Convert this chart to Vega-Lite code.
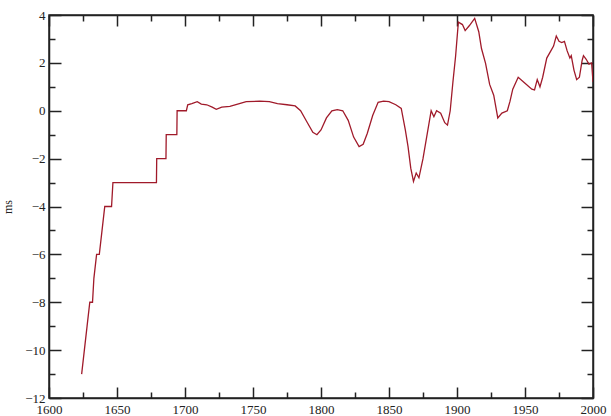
{
  "$schema": "https://vega.github.io/schema/vega-lite/v6.json",
  "autosize": "none",
  "width": 544,
  "height": 383,
  "padding": {"left": 49, "top": 15, "right": 18, "bottom": 18},
  "background": "white",
  "config": {
    "view": {"stroke": "#222", "strokeWidth": 1.5},
    "axis": {"labelFont": "Liberation Serif", "titleFont": "Liberation Serif", "labelColor": "#222", "titleColor": "#222", "labelFontSize": 13, "grid": false, "domainColor": "#222", "domainWidth": 1.5, "tickColor": "#222", "tickWidth": 1.5}
  },
  "data": {"values": [
    {"year": 1624, "ms": -11}, {"year": 1626, "ms": -10}, {"year": 1628, "ms": -9}, {"year": 1630, "ms": -8},
    {"year": 1632, "ms": -8}, {"year": 1633, "ms": -7}, {"year": 1635, "ms": -6}, {"year": 1637, "ms": -6},
    {"year": 1639, "ms": -5}, {"year": 1641, "ms": -4}, {"year": 1646, "ms": -4}, {"year": 1647, "ms": -3},
    {"year": 1679, "ms": -3}, {"year": 1679.2, "ms": -2}, {"year": 1686, "ms": -2}, {"year": 1686.2, "ms": -1},
    {"year": 1694, "ms": -1}, {"year": 1694.2, "ms": 0}, {"year": 1701, "ms": 0}, {"year": 1702, "ms": 0.25},
    {"year": 1705, "ms": 0.3}, {"year": 1709, "ms": 0.38}, {"year": 1712, "ms": 0.28}, {"year": 1716, "ms": 0.25},
    {"year": 1720, "ms": 0.15}, {"year": 1723, "ms": 0.06}, {"year": 1727, "ms": 0.15}, {"year": 1733, "ms": 0.18},
    {"year": 1740, "ms": 0.3}, {"year": 1745, "ms": 0.38}, {"year": 1755, "ms": 0.4}, {"year": 1762, "ms": 0.38},
    {"year": 1768, "ms": 0.3}, {"year": 1775, "ms": 0.25}, {"year": 1781, "ms": 0.2}, {"year": 1785, "ms": 0.0},
    {"year": 1790, "ms": -0.5}, {"year": 1794, "ms": -0.9}, {"year": 1797, "ms": -1.0}, {"year": 1800, "ms": -0.8},
    {"year": 1804, "ms": -0.3}, {"year": 1808, "ms": 0.0}, {"year": 1812, "ms": 0.05}, {"year": 1816, "ms": 0.0},
    {"year": 1820, "ms": -0.4}, {"year": 1824, "ms": -1.1}, {"year": 1828, "ms": -1.5}, {"year": 1831, "ms": -1.4},
    {"year": 1834, "ms": -0.95}, {"year": 1838, "ms": -0.2}, {"year": 1842, "ms": 0.35}, {"year": 1846, "ms": 0.4},
    {"year": 1850, "ms": 0.38}, {"year": 1855, "ms": 0.25}, {"year": 1859, "ms": 0.1}, {"year": 1862, "ms": -0.8},
    {"year": 1864, "ms": -1.5}, {"year": 1866, "ms": -2.4}, {"year": 1868, "ms": -2.95}, {"year": 1870, "ms": -2.6},
    {"year": 1872, "ms": -2.8}, {"year": 1875, "ms": -2.0}, {"year": 1878, "ms": -1.0}, {"year": 1881, "ms": 0.0},
    {"year": 1883, "ms": -0.25}, {"year": 1885, "ms": 0.0}, {"year": 1888, "ms": -0.1}, {"year": 1891, "ms": -0.5},
    {"year": 1893, "ms": -0.6}, {"year": 1895, "ms": 0.0}, {"year": 1897, "ms": 1.2}, {"year": 1899, "ms": 2.3},
    {"year": 1901, "ms": 3.7}, {"year": 1904, "ms": 3.6}, {"year": 1906, "ms": 3.35}, {"year": 1909, "ms": 3.55},
    {"year": 1913, "ms": 3.86}, {"year": 1916, "ms": 3.3}, {"year": 1918, "ms": 2.6}, {"year": 1921, "ms": 1.98},
    {"year": 1924, "ms": 1.1}, {"year": 1927, "ms": 0.65}, {"year": 1930, "ms": -0.3}, {"year": 1933, "ms": -0.1},
    {"year": 1937, "ms": 0.0}, {"year": 1939, "ms": 0.4}, {"year": 1941, "ms": 0.9}, {"year": 1945, "ms": 1.4},
    {"year": 1950, "ms": 1.15}, {"year": 1955, "ms": 0.9}, {"year": 1957, "ms": 0.87}, {"year": 1959, "ms": 1.3},
    {"year": 1961, "ms": 1.0}, {"year": 1963, "ms": 1.4}, {"year": 1966, "ms": 2.2}, {"year": 1969, "ms": 2.5},
    {"year": 1971, "ms": 2.7}, {"year": 1973, "ms": 3.12}, {"year": 1975, "ms": 2.9}, {"year": 1977, "ms": 2.85},
    {"year": 1979, "ms": 2.9}, {"year": 1981, "ms": 2.5}, {"year": 1983, "ms": 2.2}, {"year": 1984, "ms": 2.3},
    {"year": 1986, "ms": 1.7}, {"year": 1988, "ms": 1.3}, {"year": 1990, "ms": 1.4}, {"year": 1992, "ms": 2.1},
    {"year": 1993, "ms": 2.3}, {"year": 1995, "ms": 2.15}, {"year": 1997, "ms": 1.95}, {"year": 1999, "ms": 2.0},
    {"year": 2000, "ms": 1.2}
  ]},
  "resolve": {"axis": {"x": "independent", "y": "independent"}},
  "layer": [
    {
      "mark": {"type": "line", "color": "#a01a2a", "strokeWidth": 1.3, "clip": true},
      "encoding": {
        "x": {"field": "year", "type": "quantitative", "scale": {"domain": [1600, 2000], "nice": false, "zero": false},
          "axis": {"orient": "bottom", "title": null, "values": [1600,1650,1700,1750,1800,1850,1900,1950,2000],
            "tickSize": -11, "labelPadding": 16, "labelFlush": false, "labelOverlap": false, "format": "d"}},
        "y": {"field": "ms", "type": "quantitative", "scale": {"domain": [-12, 4], "nice": false, "zero": false},
          "axis": {"orient": "left", "title": "ms", "titleFontSize": 12, "titleFontWeight": "normal", "titlePadding": 10,
            "values": [-12,-10,-8,-6,-4,-2,0,2,4],
            "tickSize": -12, "labelPadding": 16, "labelFlush": false, "labelOverlap": false}}
      }
    },
    {
      "mark": {"type": "line", "strokeOpacity": 0},
      "encoding": {
        "x": {"field": "year", "type": "quantitative",
          "axis": {"orient": "bottom", "title": null, "labels": false, "domain": false, "values": [1625,1675,1725,1775,1825,1875,1925,1975], "tickSize": -6}},
        "y": {"field": "ms", "type": "quantitative",
          "axis": {"orient": "left", "title": null, "labels": false, "domain": false, "values": [-11,-9,-7,-5,-3,-1,1,3], "tickSize": -6}}
      }
    },
    {
      "mark": {"type": "line", "strokeOpacity": 0},
      "encoding": {
        "x": {"field": "year", "type": "quantitative",
          "axis": {"orient": "top", "title": null, "labels": false, "values": [1600,1650,1700,1750,1800,1850,1900,1950,2000], "tickSize": -11}},
        "y": {"field": "ms", "type": "quantitative",
          "axis": {"orient": "right", "title": null, "labels": false, "values": [-12,-10,-8,-6,-4,-2,0,2,4], "tickSize": -12}}
      }
    },
    {
      "mark": {"type": "line", "strokeOpacity": 0},
      "encoding": {
        "x": {"field": "year", "type": "quantitative",
          "axis": {"orient": "top", "title": null, "labels": false, "domain": false, "values": [1625,1675,1725,1775,1825,1875,1925,1975], "tickSize": -6}},
        "y": {"field": "ms", "type": "quantitative",
          "axis": {"orient": "right", "title": null, "labels": false, "domain": false, "values": [-11,-9,-7,-5,-3,-1,1,3], "tickSize": -6}}
      }
    }
  ]
}
